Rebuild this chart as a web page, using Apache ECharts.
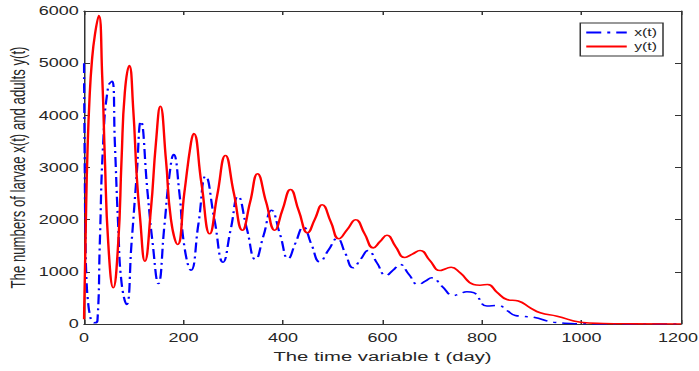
<!DOCTYPE html>
<html>
<head>
<meta charset="utf-8">
<script src="https://cdn.jsdelivr.net/npm/echarts@6/dist/echarts.min.js"></script>
<style>
  html, body { margin: 0; padding: 0; background: #fff; overflow: hidden; }
  /* figure looks horizontally stretched, so draw narrow and stretch it */
  #main { width: 466px; height: 371px; transform: scaleX(1.5); transform-origin: 0 0; }
</style>
</head>
<body>
<div id="main"></div>
<script>
// larvae x(t)
const xDays = [0, 1.5, 3, 5, 8.4, 12, 16, 21.8, 27, 31.8, 38.6, 48.7, 56.8, 62, 68.8, 75.5, 85.6, 95.6, 105.7, 114.4,
  127.8, 137.9, 149.4, 161.5, 171.5, 180.2, 191.7, 201.7, 215, 230, 244.6, 262, 279.5, 295, 309.7, 327, 344.7,
  361, 376.8, 394, 410.4, 425, 441, 457, 474, 491, 509, 525, 541, 556, 571, 589, 607, 621, 635, 653, 672, 686,
  699, 720, 742.5, 756, 769.5, 783, 810, 833, 850, 867, 885, 903.6, 944, 998, 1050, 1200];
const xValues = [5000, 3000, 1600, 850, 400, 170, 60, 25, 60, 1556, 3473, 4558, 4654, 3473, 1875, 790, 374, 1556, 2833, 3887,
  2515, 1556, 776, 1875, 2833, 3249, 2515, 1491, 1031, 1920, 2833, 2010, 1185, 1820, 2450, 1840, 1236,
  1700, 2182, 1720, 1250, 1550, 1860, 1530, 1192, 1410, 1639, 1360, 1077, 1240, 1409, 1170, 930, 1030, 1140, 950, 757, 820,
  885, 720, 546, 580, 617, 600, 345, 355, 260, 163, 145, 130, 35, 5, 0, 0];

// adults y(t)
const yDays = [0, 3, 4.4, 7, 11, 16, 22, 29.8, 36.6, 42, 48.7, 58.8, 68.8, 75.5, 82, 91, 99, 106, 112.4, 122.4, 134.5,
  144.6, 153.4, 164.7, 174.8, 188.2, 201.7, 215, 220.5, 236, 252.7, 268, 284.3, 301, 318.5, 334, 348.7, 366,
  383.5, 399, 415, 432, 449.4, 464, 478.8, 496, 512.4, 529, 546, 564, 581.5, 595, 609, 626, 645, 660, 675.5,
  695, 715.7, 727, 738, 756, 783, 796, 811, 830, 850, 873, 897, 917, 951, 998, 1044, 1100, 1200];
const yValues = [90, 1556, 2300, 3300, 4300, 5050, 5550, 5913, 4750, 3153, 1556, 694, 1556, 3153, 4432, 4955, 4112, 2833, 2066, 1204, 2195,
  3473, 4175, 3153, 2003, 1524, 2515, 3473, 3652, 2700, 1729, 2480, 3230, 2520, 1798, 2340, 2879, 2340,
  1798, 2190, 2578, 2160, 1748, 2010, 2285, 1960, 1633, 1810, 1997, 1730, 1460, 1580, 1702, 1490, 1275, 1340, 1409,
  1220, 1025, 1060, 1089, 981, 757, 744, 757, 610, 470, 440, 310, 215, 150, 35, 10, 3, 0];

const seriesNames = ['x(t)', 'y(t)'];
const xTicks = { min: 0, max: 1200, interval: 200 };
const yTicks = { min: 0, max: 6000, interval: 1000 };

const axisColor = '#333';
const textColor = '#262626';
const font = 'Liberation Sans, Arial, Helvetica, sans-serif';

const myChart = echarts.init(document.getElementById('main'), null, { renderer: 'svg' });

const boxAxis = (extra) => Object.assign({
  type: 'value',
  axisLine: { show: true, onZero: false, lineStyle: { color: axisColor, width: 1 } },
  axisTick: { show: true, inside: true, length: 4, lineStyle: { color: axisColor } },
  splitLine: { show: false },
  nameMoveOverlap: false
}, extra);

const option = {
  animation: false,
  backgroundColor: '#fff',
  grid: { left: 56, right: 12, top: 11, bottom: 47, containLabel: false, outerBoundsMode: 'none' },
  legend: {
    data: seriesNames,
    orient: 'vertical',
    right: 24,
    top: 23,
    padding: [4, 4, 4, 3],
    itemGap: 3,
    itemWidth: 27,
    itemHeight: 10,
    borderColor: axisColor,
    borderWidth: 1,
    backgroundColor: '#fff',
    itemStyle: { opacity: 0 },
    textStyle: { fontFamily: font, fontSize: 10.5, color: textColor }
  },
  xAxis: [
    boxAxis(Object.assign({
      position: 'bottom',
      name: 'The time variable t (day)',
      nameLocation: 'middle',
      nameGap: 25,
      nameTextStyle: { fontFamily: font, fontSize: 13.5, color: textColor },
      axisLabel: {
        margin: 8, fontFamily: font, fontSize: 12, color: textColor,
        // the last label sits on the edge, nudge it in a little
        formatter: v => (v === xTicks.max ? '{m|' + v + '}' : String(v)),
        rich: { m: { fontFamily: font, fontSize: 12, color: textColor, padding: [0, 4, 0, 0] } }
      }
    }, xTicks)),
    boxAxis(Object.assign({ position: 'top', axisLabel: { show: false } }, xTicks))
  ],
  yAxis: [
    boxAxis(Object.assign({
      position: 'left',
      name: 'The numbers of larvae x(t) and adults y(t)',
      nameLocation: 'middle',
      nameGap: 37,
      nameRotate: 90,
      nameTextStyle: { fontFamily: font, fontSize: 13.2, color: textColor },
      axisLabel: { margin: 3.5, fontFamily: font, fontSize: 12, color: textColor, formatter: v => String(v) }
    }, yTicks)),
    boxAxis(Object.assign({ position: 'right', axisLabel: { show: false } }, yTicks))
  ],
  series: [
    {
      name: seriesNames[0],
      type: 'line',
      smooth: true,
      symbol: 'none',
      lineStyle: { color: '#0000ff', width: 1.5, type: [10, 4, 2, 4] },
      itemStyle: { color: '#0000ff' },
      data: xDays.map((t, i) => [t, xValues[i]])
    },
    {
      name: seriesNames[1],
      type: 'line',
      smooth: true,
      symbol: 'none',
      lineStyle: { color: '#ff0000', width: 1.6 },
      itemStyle: { color: '#ff0000' },
      data: yDays.map((t, i) => [t, yValues[i]])
    }
  ]
};

myChart.setOption(option);
</script>
</body>
</html>
